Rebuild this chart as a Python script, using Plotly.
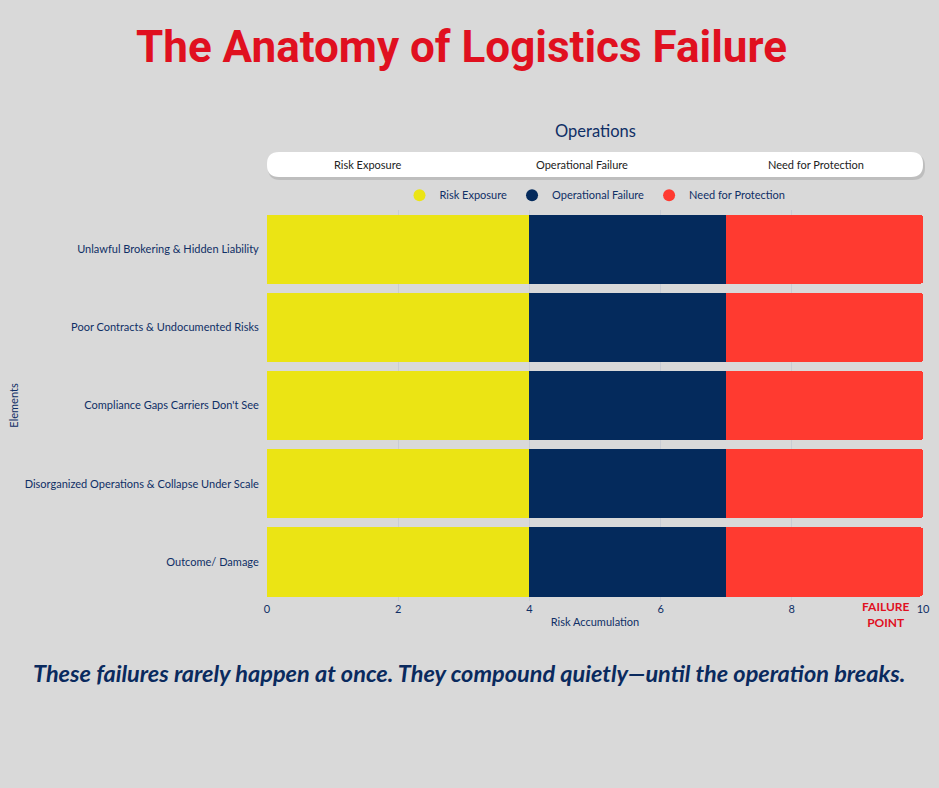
import plotly.graph_objects as go

categories = [
    "Unlawful Brokering & Hidden Liability",
    "Poor Contracts & Undocumented Risks",
    "Compliance Gaps Carriers Don't See",
    "Disorganized Operations & Collapse Under Scale",
    "Outcome/ Damage",
]
risk_exposure = [4, 4, 4, 4, 4]
operational_failure = [3, 3, 3, 3, 3]
need_for_protection = [3, 3, 3, 3, 3]
x_ticks = [0, 2, 4, 6, 8, 10]
stage_labels = ["Risk Exposure", "Operational Failure", "Need for Protection"]

NAVY = "#0f2f66"
FONT = "Lato"
fig = go.Figure()
series = [
    ("Risk Exposure", risk_exposure, "#ebe414"),
    ("Operational Failure", operational_failure, "#042a5c"),
    ("Need for Protection", need_for_protection, "#ff3a30"),
]
for name, vals, col in series:
    fig.add_trace(go.Bar(
        y=categories, x=vals, name=name, orientation="h", showlegend=False,
        marker=dict(color=col, line=dict(width=0)), legendgroup=name,
    ))
for name, vals, col in series:
    fig.add_trace(go.Scatter(
        x=[None], y=[None], mode="markers", name=name, legendgroup=name,
        marker=dict(color=col, size=12, symbol="circle"), showlegend=True,
    ))

L, R, T, B = 267, 16, 210, 187
W, H = 939, 788
pw, ph = W - L - R, H - T - B

fig.update_layout(
    width=W, height=H,
    barmode="stack", bargap=0.115, barcornerradius=3,
    paper_bgcolor="#d9d9d9", plot_bgcolor="#d9d9d9",
    margin=dict(l=L, r=R, t=T, b=B, autoexpand=False),
    font=dict(family=FONT, color=NAVY, size=11),
    showlegend=True,
    legend=dict(orientation="h", x=0.5, xanchor="center", y=1.038, yanchor="middle",
                font=dict(size=11, color=NAVY), bgcolor="rgba(0,0,0,0)", itemwidth=30,
                traceorder="normal"),
    xaxis=dict(range=[0, 10], tickvals=x_ticks, showgrid=True, gridcolor="#c9ccd3",
               gridwidth=1, zeroline=False, ticks="", tickfont=dict(size=11, color=NAVY),
               automargin=False,
               title=dict(text="Risk Accumulation", font=dict(size=11, color=NAVY), standoff=4)),
    yaxis=dict(autorange="reversed", showgrid=False, zeroline=False, ticks="outside",
               ticklen=5, tickcolor="rgba(0,0,0,0)", tickfont=dict(size=11, color=NAVY),
               automargin=False,
               title=dict(text="Elements", font=dict(size=11, color=NAVY), standoff=3)),
)

def py(pix):
    return (H - B - pix) / ph

def px(pix):
    return (pix - L) / pw

# Title
fig.add_annotation(text="<b>The Anatomy of Logistics Failure</b>", xref="paper", yref="paper",
                   x=px(461), y=py(47), showarrow=False,
                   font=dict(family="Roboto", size=44, color="#e0101f"), xanchor="center", yanchor="middle")
# Operations header
fig.add_annotation(text="Operations", xref="paper", yref="paper", x=px(595), y=py(131),
                   showarrow=False, font=dict(size=16.5, color=NAVY), xanchor="center", yanchor="middle")

def pill(x0, x1, y0, y1, r):
    rx, ry = r / pw, r / ph
    X0, X1 = px(x0), px(x1)
    Yt, Yb = py(y0), py(y1)
    return (f"M {X0+rx},{Yt} L {X1-rx},{Yt} Q {X1},{Yt} {X1},{Yt-ry} L {X1},{Yb+ry} "
            f"Q {X1},{Yb} {X1-rx},{Yb} L {X0+rx},{Yb} Q {X0},{Yb} {X0},{Yb+ry} "
            f"L {X0},{Yt-ry} Q {X0},{Yt} {X0+rx},{Yt} Z")

fig.add_shape(type="path", xref="paper", yref="paper", path=pill(268, 925, 154, 180, 12),
              fillcolor="rgba(0,0,0,0.12)", line=dict(width=0), layer="below")
fig.add_shape(type="path", xref="paper", yref="paper", path=pill(267, 923, 152, 177, 12),
              fillcolor="white", line=dict(width=0), layer="below")
for lab, xp in zip(stage_labels, [368, 582, 816]):
    fig.add_annotation(text=lab, xref="paper", yref="paper", x=px(xp), y=py(164), showarrow=False,
                       font=dict(size=11, color="#222222"), xanchor="center", yanchor="middle")

# Failure point
fig.add_annotation(text="<b>FAILURE<br>POINT</b>", xref="paper", yref="paper", x=px(886), y=py(614),
                   showarrow=False, font=dict(size=12, color="#e0101f"), xanchor="center", yanchor="middle",
                   align="center")
# bottom caption
fig.add_annotation(text="<b><i>These failures rarely happen at once. They compound quietly\u2014until the operation breaks.</i></b>",
                   xref="paper", yref="paper", x=px(469), y=py(673), showarrow=False,
                   font=dict(size=23.5, color="#0a2a5e"), xanchor="center", yanchor="middle")

fig.write_html("out.html", config={"displayModeBar": False},
               post_script="document.body.style.margin='0';document.body.style.overflow='hidden';")
